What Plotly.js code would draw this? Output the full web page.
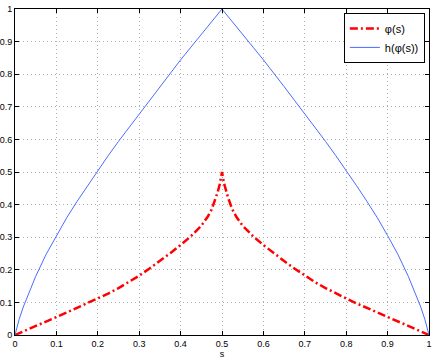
<!DOCTYPE html>
<html>
<head>
<meta charset="utf-8">
<script src="https://cdn.plot.ly/plotly-3.0.1.min.js"></script>
<style>html,body{margin:0;padding:0;background:#fff;}#plot{width:436px;height:362px;}</style>
</head>
<body>
<div id="plot"></div>
<script>
var sValues = [0, 0.01, 0.02, 0.03, 0.05, 0.075, 0.1, 0.125, 0.15, 0.175, 0.2, 0.225, 0.25, 0.275, 0.3, 0.325, 0.35, 0.375, 0.4, 0.425, 0.45, 0.465, 0.475, 0.485, 0.49, 0.495, 0.5,
  0.505, 0.51, 0.515, 0.525, 0.535, 0.55, 0.575, 0.6, 0.625, 0.65, 0.675, 0.7, 0.725, 0.75, 0.775, 0.8, 0.825, 0.85, 0.875, 0.9, 0.925, 0.95, 0.97, 0.98, 0.99, 1];
var phiValues = [0, 0.0053, 0.0108, 0.016, 0.027, 0.041, 0.055, 0.069, 0.083, 0.097, 0.112, 0.127, 0.144, 0.162, 0.182, 0.204, 0.227, 0.251, 0.276, 0.303, 0.335, 0.362, 0.385, 0.42, 0.44, 0.465, 0.5,
  0.465, 0.44, 0.42, 0.385, 0.362, 0.335, 0.303, 0.276, 0.251, 0.227, 0.204, 0.182, 0.162, 0.144, 0.127, 0.112, 0.097, 0.083, 0.069, 0.055, 0.041, 0.027, 0.016, 0.0108, 0.0053, 0];
var hValues = [0, 0.048, 0.086, 0.118, 0.18, 0.247, 0.305, 0.36, 0.41, 0.458, 0.505, 0.55, 0.594, 0.636, 0.679, 0.72, 0.762, 0.804, 0.844, 0.883, 0.922, 0.945, 0.961, 0.976, 0.984, 0.992, 1,
  0.992, 0.984, 0.976, 0.961, 0.945, 0.922, 0.883, 0.844, 0.804, 0.762, 0.72, 0.679, 0.636, 0.594, 0.55, 0.505, 0.458, 0.41, 0.36, 0.305, 0.247, 0.18, 0.118, 0.086, 0.048, 0];
var xTickVals = [0, 0.1, 0.2, 0.3, 0.4, 0.5, 0.6, 0.7, 0.8, 0.9, 1];
var xTickText = ["0", "0.1", "0.2", "0.3", "0.4", "0.5", "0.6", "0.7", "0.8", "0.9", "1"];
var yTickVals = [0, 0.1, 0.2, 0.3, 0.4, 0.5, 0.6, 0.7, 0.8, 0.9, 1];
var yTickText = ["0", "0.1", "0.2", "0.3", "0.4", "0.5", "0.6", "0.7", "0.8", "0.9", "1"];
var seriesNames = ["φ(s)", "h(φ(s))"];

var traces = [
  {x: sValues, y: phiValues, name: seriesNames[0], type: 'scatter', mode: 'lines',
   line: {color: '#ff0000', width: 2.5, dash: '8px,3px,2px,3px'}},
  {x: sValues, y: hValues, name: seriesNames[1], type: 'scatter', mode: 'lines',
   line: {color: '#4a6cff', width: 1}}
];
var axisCommon = {
  showline: true, linecolor: '#000', linewidth: 1, mirror: 'ticks',
  ticks: 'inside', ticklen: 4, tickcolor: '#000', tickwidth: 1,
  showgrid: true, gridcolor: '#b0b0b0', griddash: '1px,3px', gridwidth: 1,
  zeroline: false, tickfont: {family: 'Liberation Sans, Arial, sans-serif', size: 9, color: '#000'}
};
var layout = {
  width: 436, height: 362,
  margin: {l: 15, r: 7, t: 9, b: 27},
  paper_bgcolor: '#fff', plot_bgcolor: '#fff',
  showlegend: true,
  font: {family: 'Liberation Sans, Arial, sans-serif', color: '#000'},
  xaxis: Object.assign({}, axisCommon, {range: [0, 1], tickvals: xTickVals, ticktext: xTickText,
    title: {text: 's', font: {size: 9}, standoff: 2}}),
  yaxis: Object.assign({}, axisCommon, {range: [0, 1], tickvals: yTickVals, ticktext: yTickText}),
  legend: {x: 0.99, y: 0.988, xanchor: 'right', yanchor: 'top', bgcolor: '#fff',
    bordercolor: '#000', borderwidth: 1, font: {size: 11}, tracegroupgap: 0}
};
Plotly.newPlot('plot', traces, layout, {displayModeBar: false, staticPlot: true});
</script>
</body>
</html>
